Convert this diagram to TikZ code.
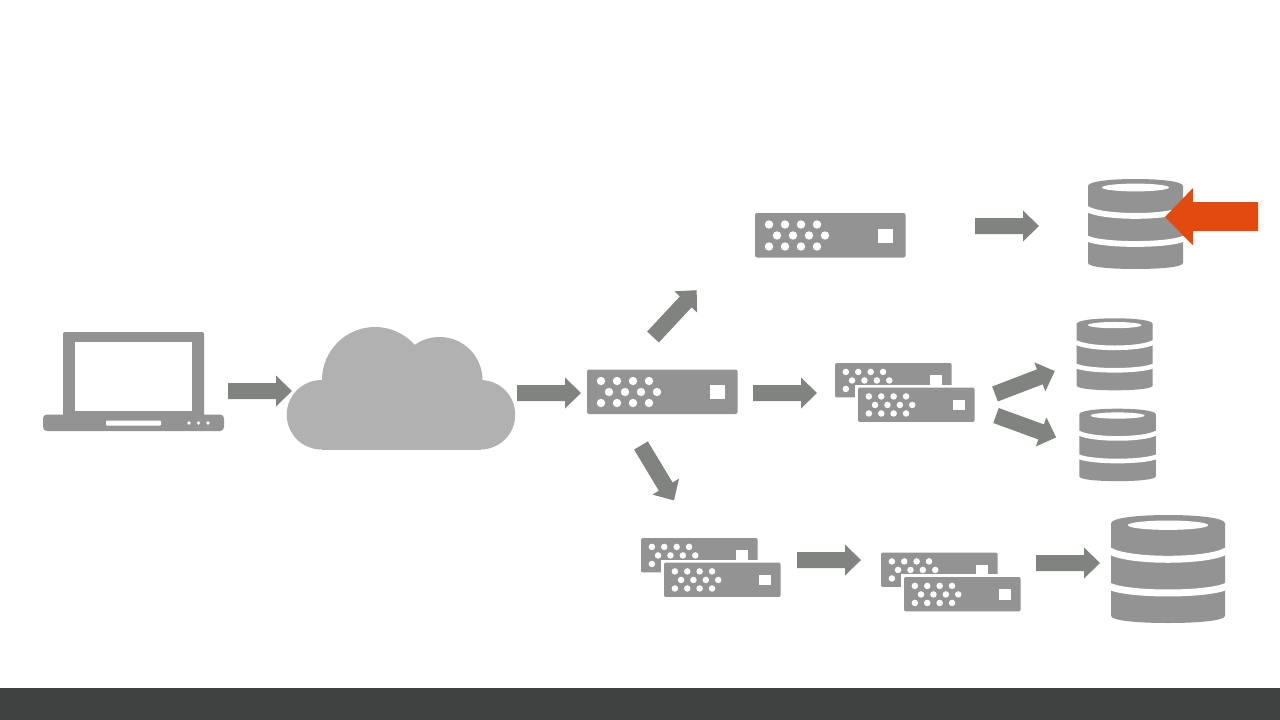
\documentclass[tikz,border=0pt]{standalone}
\definecolor{icon}{HTML}{939393}
\definecolor{arrowgray}{HTML}{818381}
\definecolor{cloudgray}{HTML}{B1B1B2}
\definecolor{barcol}{HTML}{404241}
\definecolor{redarrow}{HTML}{E34A0F}
\tikzset{
  iconfill/.style={fill=icon,draw=none},
  hole/.style={fill=white,draw=none},
  dbgap/.style={draw=white},
  blockarrow/.style={fill=arrowgray,draw=none}
}
\newcommand{\servericon}[3]{%
  \begin{scope}[shift={(#1,#2)},scale=#3]
    \fill[iconfill,rounded corners=2pt] (0,0) rectangle (150.5,44.5);
    \foreach \px in {14,30,46,62} {
      \fill[hole] (\px,11.5) circle (4.2);
      \fill[hole] (\px,33.5) circle (4.2);
      \fill[hole] (\px+8,22.5) circle (4.2);
    }
    \fill[hole] (123,15.5) rectangle (137.5,29.5);
  \end{scope}}
\newcommand{\stackicon}[2]{%
  \servericon{#1}{#2}{0.775}
  \fill[white] (#1+20,#2+21.5) rectangle (#1+143,#2+62);
  \servericon{#1+23}{#2+24.5}{0.775}}
\newcommand{\dbicon}[3]{%
  \begin{scope}[shift={(#1,#2)},scale=#3]
    \fill[iconfill] (0,7) .. controls (0,2.5) and (22,0) .. (47.5,0)
      .. controls (73,0) and (95,2.5) .. (95,7) -- (95,84)
      .. controls (95,88) and (73,90) .. (47.5,90)
      .. controls (22,90) and (0,88) .. (0,84) -- cycle;
    \fill[hole] (47.5,8.5) ellipse (33.5 and 3.9);
    \draw[dbgap,line width=#3*5.8pt] (-1,30) .. controls (15,39.2) and (80,39.2) .. (96,30);
    \draw[dbgap,line width=#3*5.8pt] (-1,59.5) .. controls (15,66.8) and (80,66.8) .. (96,59.5);
  \end{scope}}
\newcommand{\barrow}[3]{%
  \begin{scope}[shift={(#1,#2)},rotate=#3]
    \fill[blockarrow] (0,-8) -- (48,-8) -- (48,-15.5) -- (64,0) -- (48,15.5) -- (48,8) -- (0,8) -- cycle;
  \end{scope}}
\begin{document}
\begin{tikzpicture}[x=1pt,y=-1pt]
\useasboundingbox (0,0) rectangle (1280,720);
\fill[white] (0,0) rectangle (1280,720);
\fill[barcol] (0,688) rectangle (1280,720);
% laptop
\fill[iconfill,rounded corners=2pt] (63,332) rectangle (204,418);
\fill[iconfill,rounded corners=4pt] (43,414.5) rectangle (224,431);
\fill[hole] (75,342) rectangle (192,411);
\fill[hole,rounded corners=1pt] (106,420.5) rectangle (161,425.5);
\fill[hole] (189,423) circle (1.9);
\fill[hole] (198.5,423) circle (1.9);
\fill[hole] (208,423) circle (1.9);
% cloud
\fill[cloudgray] (321.5,414.75) circle (34.75);
\fill[cloudgray] (375,380) circle (53);
\fill[cloudgray] (439.5,380) circle (43);
\fill[cloudgray] (480.5,414.75) circle (34.75);
\fill[cloudgray] (321.5,380) rectangle (480.5,449.5);
% servers
\servericon{587}{369.5}{1}
\servericon{755}{213}{1}
\stackicon{835}{363}
\stackicon{641}{538}
\stackicon{881}{552.5}
% databases
\dbicon{1088}{179}{1}
\dbicon{1076.7}{318.3}{0.8}
\dbicon{1079.3}{408.7}{0.805}
\dbicon{1111}{515}{1.2}
% arrows
\barrow{228}{391}{0}
\barrow{517}{393}{0}
\barrow{753}{393}{0}
\barrow{975}{226}{0}
\barrow{797}{560}{0}
\barrow{1036}{563}{0}
\barrow{653}{337}{47}
\barrow{641}{445.5}{-59}
\barrow{995}{394}{21}
\barrow{996}{415.5}{-20}
% red arrow
\fill[redarrow] (1258,202) -- (1193,202) -- (1193,188) -- (1165,217) -- (1193,245.5) -- (1193,231) -- (1258,231) -- cycle;
\end{tikzpicture}
\end{document}
